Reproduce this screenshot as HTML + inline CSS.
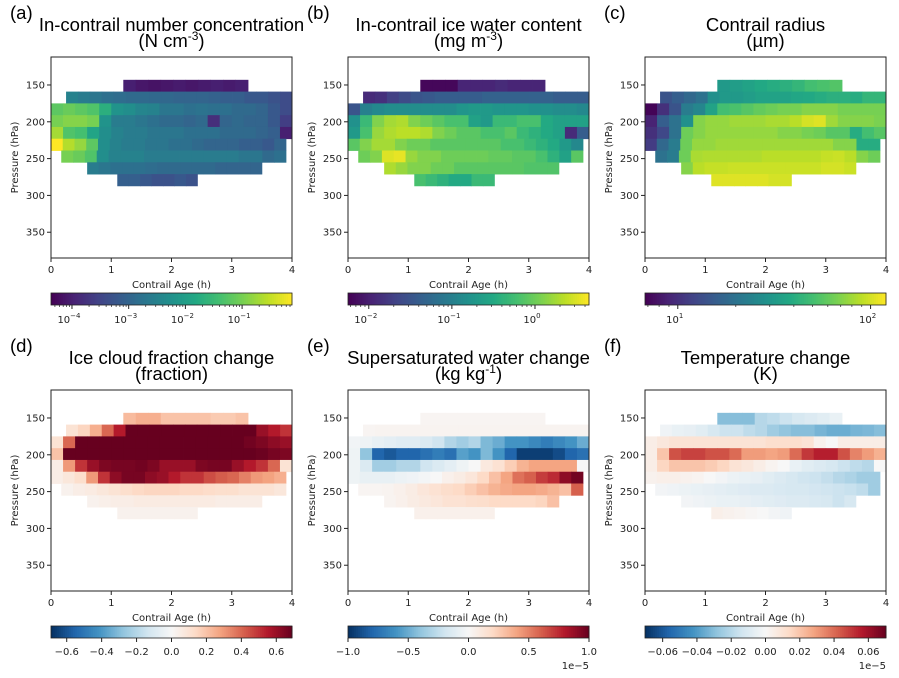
<!DOCTYPE html>
<html><head><meta charset="utf-8"><style>
html,body{margin:0;padding:0;background:#fff;}
svg{display:block;}
.ttl{font-family:"Liberation Sans",sans-serif;font-size:18.5px;fill:#000;}
.tk{font-family:"DejaVu Sans","Liberation Sans",sans-serif;font-size:10px;fill:#222;}
</style></head><body>
<svg id="fig" width="899" height="678" viewBox="0 0 899 678" xmlns="http://www.w3.org/2000/svg"></svg>
<script>
// ---- shared grid data ----
const rowPressures = [151,167,183,199,215,231,247,263,279];
const rowStart = [1.2,0.25,0,0,0,0,0.17,0.6,1.1];
const rowEnd = [3.27,4,4,4,4,3.9,3.9,3.5,2.43];
const xTicks = [0,1,2,3,4];
const yTicks = [150,200,250,300,350];

// panel a: log10 of N cm^-3
const aLog = [
[-4.0,-4.1,-4.15,-4.1,-4.05,-4.1,-4.05,-4.0,-4.05,-4.0],
[-2.5,-2.6,-2.7,-2.8,-2.85,-2.9,-2.9,-2.95,-2.95,-3.0,-3.0,-3.0,-3.05,-3.1,-3.1,-3.2,-3.2,-3.3,-3.4],
[-1.2,-1.1,-1.2,-1.3,-1.7,-2.2,-2.3,-2.45,-2.5,-2.7,-2.7,-2.8,-2.75,-2.8,-2.8,-2.9,-2.9,-3.0,-3.2,-3.4],
[-1.0,-0.9,-0.9,-1.0,-2.2,-2.6,-2.6,-2.7,-2.8,-2.9,-2.9,-3.0,-2.9,-3.8,-3.0,-2.9,-3.0,-3.0,-3.2,-3.6],
[-0.7,-1.3,-1.4,-1.9,-2.3,-2.5,-2.6,-2.6,-2.7,-2.7,-2.7,-2.8,-2.8,-2.8,-2.9,-2.9,-2.9,-3.0,-3.1,-4.0],
[-0.1,-0.6,-0.8,-1.2,-2.3,-2.5,-2.6,-2.6,-2.7,-2.7,-2.8,-2.8,-2.9,-3.0,-3.0,-3.0,-3.1,-3.1,-3.2,-3.0],
[-1.0,-1.1,-1.3,-2.3,-2.5,-2.5,-2.5,-2.6,-2.6,-2.6,-2.6,-2.6,-2.6,-2.6,-2.6,-2.7,-2.7,-2.9,-2.8],
[-2.6,-2.7,-2.8,-2.8,-2.8,-2.85,-2.9,-2.9,-2.9,-2.9,-2.9,-3.0,-3.0,-3.0,-3.0],
[-3.1,-3.1,-3.2,-3.3,-3.3,-3.2,-3.3]];
// panel b: log10 of mg m^-3
const bLog = [
[-2.2,-2.2,-2.2,-1.95,-1.95,-1.95,-1.9,-1.95,-1.95,-1.95],
[-1.9,-1.85,-1.7,-1.6,-1.5,-1.45,-1.4,-1.4,-1.4,-1.4,-1.35,-1.35,-1.35,-1.35,-1.35,-1.35,-1.4,-1.4,-1.4],
[-1.5,-1.0,-0.9,-0.85,-0.85,-0.85,-0.85,-0.85,-0.85,-0.75,-0.7,-0.7,-0.75,-0.75,-0.75,-0.8,-0.8,-0.85,-0.85,-0.9],
[-0.8,-0.3,0.1,0.25,0.3,0.1,0.0,-0.1,-0.2,-0.2,-0.6,-0.7,-0.3,-0.3,-0.2,-0.2,-0.5,-0.6,-0.6,-0.6],
[-0.7,-0.2,0.2,0.3,0.35,0.35,0.3,0.1,0.0,-0.1,-0.1,-0.2,-0.2,-0.1,-0.3,-0.4,-0.5,-0.6,-1.9,-1.4],
[-0.1,0.1,0.25,0.25,0.1,0.0,0.0,-0.1,-0.1,-0.1,-0.1,-0.1,-0.1,-0.2,-0.2,-0.3,-0.4,-0.5,-0.7,-0.9],
[0.0,0.1,0.5,0.55,0.2,0.1,0.1,0.0,0.0,0.0,0.0,-0.05,-0.05,-0.1,-0.1,-0.2,-0.4,-0.6,-0.1],
[0.3,0.2,0.1,0.1,0.0,0.0,-0.1,-0.1,-0.1,-0.1,-0.1,-0.1,-0.15,-0.15,-0.15],
[-0.2,-0.3,-0.4,-0.5,-0.5,-0.3,-0.3]];
// panel c: log10 of radius um
const cLog = [
[1.5,1.52,1.55,1.58,1.6,1.62,1.65,1.7,1.72,1.74],
[1.15,1.2,1.25,1.3,1.45,1.5,1.5,1.52,1.55,1.55,1.55,1.57,1.58,1.6,1.62,1.62,1.6,1.65,1.65],
[0.84,1.0,1.15,1.35,1.4,1.55,1.7,1.72,1.75,1.78,1.8,1.82,1.82,1.85,1.85,1.85,1.82,1.82,1.82,1.82],
[0.95,1.2,1.3,1.45,1.85,1.88,1.88,1.9,1.9,1.9,1.92,1.92,1.95,2.0,2.02,1.9,1.85,1.85,1.85,1.83],
[1.0,1.1,1.3,1.8,1.85,1.88,1.88,1.88,1.88,1.88,1.88,1.85,1.85,1.82,1.8,1.75,1.75,1.6,1.7,1.75],
[1.05,1.25,1.35,1.8,1.88,1.88,1.9,1.9,1.9,1.9,1.9,1.9,1.9,1.9,1.9,1.9,1.85,1.85,1.6,1.6],
[1.3,1.35,1.8,1.92,1.93,1.93,1.93,1.93,1.93,1.95,1.95,1.95,1.95,1.95,1.97,1.98,1.95,1.85,1.8],
[1.85,1.95,1.97,1.97,1.98,1.98,1.98,1.98,1.98,1.98,1.98,1.98,2.0,2.0,1.98],
[2.02,2.02,2.02,2.02,2.02,2.0,2.0]];
// panel d: ice cloud fraction change
const dVal = [
[0.22,0.25,0.25,0.2,0.2,0.2,0.2,0.18,0.18,0.2],
[0.1,0.15,0.25,0.4,0.55,0.69,0.69,0.69,0.69,0.69,0.69,0.69,0.69,0.69,0.69,0.69,0.6,0.55,0.5],
[0.1,0.4,0.69,0.69,0.69,0.69,0.69,0.69,0.69,0.69,0.69,0.69,0.69,0.69,0.69,0.69,0.67,0.65,0.62,0.6],
[0.2,0.69,0.69,0.69,0.69,0.69,0.69,0.69,0.69,0.69,0.69,0.69,0.69,0.69,0.69,0.69,0.69,0.68,0.66,0.65],
[0.05,0.3,0.5,0.6,0.65,0.66,0.66,0.67,0.65,0.6,0.6,0.6,0.65,0.66,0.66,0.6,0.55,0.5,0.4,0.1],
[0.05,0.08,0.12,0.3,0.5,0.62,0.66,0.66,0.62,0.6,0.55,0.5,0.5,0.45,0.42,0.4,0.35,0.3,0.28,0.25],
[0.03,0.05,0.06,0.08,0.1,0.12,0.14,0.15,0.15,0.15,0.14,0.14,0.13,0.12,0.12,0.1,0.1,0.1,0.08],
[0.03,0.04,0.05,0.05,0.06,0.06,0.06,0.06,0.06,0.06,0.06,0.05,0.05,0.05,0.05],
[0.03,0.03,0.03,0.03,0.03,0.03,0.03]];
// panel e: supersaturated water change (x1e-5 kg/kg)
const eVal = [
[0.02,0.02,0.02,0.02,0.02,0.02,0.02,0.02,0.02,0.02],
[0.02,0.03,0.03,0.03,0.03,0.03,0.03,0.03,0.03,0.03,0.03,0.03,0.03,0.03,0.03,0.03,0.03,0.03,0.03],
[-0.03,-0.05,-0.08,-0.1,-0.12,-0.12,-0.15,-0.2,-0.3,-0.35,-0.3,-0.45,-0.5,-0.6,-0.6,-0.65,-0.7,-0.65,-0.6,-0.5],
[-0.05,-0.4,-0.8,-0.85,-0.8,-0.8,-0.75,-0.7,-0.75,-0.55,-0.6,-0.45,-0.6,-0.8,-0.95,-0.95,-0.95,-0.9,-0.8,-0.75],
[-0.05,-0.15,-0.35,-0.35,-0.3,-0.3,-0.2,-0.15,-0.1,-0.05,0.0,0.1,0.15,0.25,0.35,0.4,0.4,0.4,0.4,0.0],
[-0.05,-0.08,-0.08,-0.08,-0.06,-0.04,-0.02,0.0,0.05,0.08,0.12,0.2,0.3,0.4,0.55,0.6,0.7,0.75,0.9,0.97],
[0.02,0.02,0.03,0.05,0.08,0.12,0.15,0.18,0.2,0.25,0.3,0.35,0.38,0.4,0.4,0.38,0.35,0.3,0.6],
[0.03,0.05,0.08,0.1,0.12,0.15,0.15,0.17,0.18,0.2,0.2,0.2,0.2,0.22,0.3],
[0.05,0.05,0.05,0.05,0.05,0.05,0.05]];
// panel f: temperature change (x1e-5 K)
const fVal = [
[-0.03,-0.03,-0.03,-0.02,-0.018,-0.015,-0.012,-0.01,-0.008,-0.005],
[-0.003,-0.005,-0.006,-0.008,-0.012,-0.015,-0.015,-0.018,-0.02,-0.025,-0.028,-0.03,-0.03,-0.033,-0.035,-0.035,-0.033,-0.032,-0.03],
[0.005,0.008,0.01,0.01,0.01,0.01,0.01,0.01,0.01,0.01,0.012,0.012,0.012,0.01,0.003,0.0,0.005,0.005,0.005,0.005],
[0.005,0.02,0.045,0.048,0.048,0.045,0.045,0.04,0.03,0.03,0.028,0.03,0.04,0.05,0.055,0.055,0.045,0.035,0.03,0.025],
[0.005,0.015,0.02,0.02,0.02,0.018,0.015,0.01,0.008,0.005,0.002,0.0,-0.005,-0.008,-0.01,-0.012,-0.015,-0.018,-0.02,0.0],
[0.003,0.004,0.004,0.003,0.002,0.0,-0.002,-0.004,-0.005,-0.006,-0.008,-0.01,-0.012,-0.014,-0.015,-0.017,-0.02,-0.022,-0.025,-0.025],
[-0.002,-0.003,-0.004,-0.005,-0.006,-0.007,-0.008,-0.009,-0.01,-0.01,-0.011,-0.012,-0.012,-0.013,-0.014,-0.015,-0.016,-0.018,-0.025],
[-0.002,-0.003,-0.004,-0.005,-0.005,-0.006,-0.007,-0.008,-0.009,-0.01,-0.01,-0.011,-0.012,-0.015,-0.012],
[0.004,0.003,0.002,0.001,0.0,-0.002,-0.003]];

const cbTicksA = [-4,-3,-2,-1];
const cbTicksB = [-2,-1,0];
const cbTicksC = [1,2];
const cbTicksD = [-0.6,-0.4,-0.2,0.0,0.2,0.4,0.6];
const cbTicksE = [-1.0,-0.5,0.0,0.5,1.0];
const cbTicksF = [-0.06,-0.04,-0.02,0.00,0.02,0.04,0.06];

const VIR = ["#440154","#482475","#414487","#355f8d","#2a788e","#21918c","#22a884","#44bf70","#7ad151","#bddf26","#fde725"];
const RDBU = ["#053061","#2166ac","#4393c3","#92c5de","#d1e5f0","#f7f7f7","#fddbc7","#f4a582","#d6604d","#b2182b","#67001f"];
function hx(c){return [parseInt(c.substr(1,2),16),parseInt(c.substr(3,2),16),parseInt(c.substr(5,2),16)];}
function cmap(stops,t){t=Math.max(0,Math.min(1,t));const n=stops.length-1;const i=Math.min(n-1,Math.floor(t*n));const f=t*n-i;const a=hx(stops[i]),b=hx(stops[i+1]);return "rgb("+a.map((v,k)=>Math.round(v+(b[k]-v)*f)).join(",")+")";}

const NS="http://www.w3.org/2000/svg";
const svg=document.getElementById('fig');
function mk(tag,attrs,parent){const e=document.createElementNS(NS,tag);for(const k in attrs)e.setAttribute(k,attrs[k]);(parent||svg).appendChild(e);return e;}

const panels=[
 {key:"a",lab:"(a)",t1:"In-contrail number concentration",t2:["(N cm","-3",")"],data:aLog,cm:VIR,lo:-4.37,hi:-0.12,log:true,ticks:cbTicksA,col:0,row:0},
 {key:"b",lab:"(b)",t1:"In-contrail ice water content",t2:["(mg m","-3",")"],data:bLog,cm:VIR,lo:-2.25,hi:0.65,log:true,ticks:cbTicksB,col:1,row:0},
 {key:"c",lab:"(c)",t1:"Contrail radius",t2:["(\u00b5m",null,")"],data:cLog,cm:VIR,lo:0.83,hi:2.08,log:true,ticks:cbTicksC,col:2,row:0},
 {key:"d",lab:"(d)",t1:"Ice cloud fraction change",t2:["(fraction",null,")"],data:dVal,cm:RDBU,lo:-0.69,hi:0.69,log:false,ticks:cbTicksD,col:0,row:1,fmt:v=>v.toFixed(1)},
 {key:"e",lab:"(e)",t1:"Supersaturated water change",t2:["(kg kg",null,")"],sup2:"-1",data:eVal,cm:RDBU,lo:-1.0,hi:1.0,log:false,ticks:cbTicksE,col:1,row:1,fmt:v=>v.toFixed(1),exp:"1e\u22125"},
 {key:"f",lab:"(f)",t1:"Temperature change",t2:["(K",null,")"],data:fVal,cm:RDBU,lo:-0.0703,hi:0.0703,log:false,ticks:cbTicksF,col:2,row:1,fmt:v=>v.toFixed(2),exp:"1e\u22125"}
];

panels.forEach(P=>{
  const ox=51+297*P.col, oy=57+333*P.row, W=241, H=201;
  const g=mk('g',{});
  
  
  const xs=h=>ox+h/4*W;
  const ys=p=>oy+(p-112)/(385-112)*H;
  const lab=mk('text',{x:ox-41,y:oy-38,class:'ttl'},g);lab.textContent=P.lab;
  
  
  const t1=mk('text',{x:ox+W/2,y:oy-26,class:'ttl','text-anchor':'middle'},g);t1.textContent=P.t1;
  
  
  const t2=mk('text',{x:ox+W/2,y:oy-10,class:'ttl','text-anchor':'middle'},g);
  
  
  const s1=mk('tspan',{},t2);s1.textContent=P.t2[0];
  const supTxt=P.t2[1]||P.sup2;
  if(supTxt){const s=mk('tspan',{'font-size':'12','dy':'-7'},t2);s.textContent=supTxt;const s3=mk('tspan',{'dy':'7'},t2);s3.textContent=P.t2[2];}
  else{const s3=mk('tspan',{},t2);s3.textContent=P.t2[2];}
  P.data.forEach((vals,r)=>{
    const p=rowPressures[r],x0=rowStart[r],x1=rowEnd[r],n=vals.length,w=(x1-x0)/n;
    vals.forEach((v,i)=>{
      const c=mk('rect',{x:xs(x0+i*w),y:ys(p-8),width:xs(x0+(i+1)*w)-xs(x0+i*w)+0.4,height:ys(p+8)-ys(p-8)+0.4,fill:cmap(P.cm,(v-P.lo)/(P.hi-P.lo))},g);
      
      
    });
  });
  const fr=mk('rect',{x:ox,y:oy,width:W,height:H,fill:'none',stroke:'#222','stroke-width':1},g);
  
  
  xTicks.forEach(t=>{
    mk('line',{x1:xs(t),x2:xs(t),y1:oy+H,y2:oy+H+4,stroke:'#222'},g);
    const tx=mk('text',{x:xs(t),y:oy+H+15,class:'tk','text-anchor':'middle'},g);tx.textContent=t;
    
    
  });
  yTicks.forEach(t=>{
    mk('line',{x1:ox-4,x2:ox,y1:ys(t),y2:ys(t),stroke:'#222'},g);
    const tx=mk('text',{x:ox-6,y:ys(t)+3.5,class:'tk','text-anchor':'end'},g);tx.textContent=t;
    
    
  });
  const xl=mk('text',{x:ox+W/2,y:oy+H+30,class:'tk','text-anchor':'middle'},g);xl.textContent='Contrail Age (h)';
  
  
  const yl=mk('text',{x:0,y:0,class:'tk','text-anchor':'middle',transform:`translate(${ox-33},${oy+H/2}) rotate(-90)`},g);yl.textContent='Pressure (hPa)';
  
  
  const cy=oy+236, ch=12;
  const cb=mk('g',{},g);
  
  
  const N=120;
  for(let i=0;i<N;i++){mk('rect',{x:ox+i*W/N,y:cy,width:W/N+0.5,height:ch,fill:cmap(P.cm,(i+0.5)/N)},cb);}
  mk('rect',{x:ox,y:cy,width:W,height:ch,fill:'none',stroke:'#222','stroke-width':0.8},cb);
  const cx=v=>ox+(v-P.lo)/(P.hi-P.lo)*W;
  if(P.log){
    for(let d=Math.floor(P.lo);d<=Math.ceil(P.hi);d++){for(let m=2;m<=9;m++){const v=d+Math.log10(m);if(v>P.lo&&v<P.hi)mk('line',{x1:cx(v),x2:cx(v),y1:cy+ch,y2:cy+ch+2,stroke:'#222','stroke-width':0.7},cb);}}
    P.ticks.forEach(t=>{
      mk('line',{x1:cx(t),x2:cx(t),y1:cy+ch,y2:cy+ch+4,stroke:'#222'},cb);
      const tx=mk('text',{x:cx(t)-3,y:cy+ch+18,class:'tk','text-anchor':'middle'},cb);
      
      
      const a=mk('tspan',{},tx);a.textContent='10';
      const b=mk('tspan',{dy:-5,'font-size':'7'},tx);b.textContent=(t<0?'\u2212':'')+Math.abs(t);
    });
  } else {
    P.ticks.forEach(t=>{
      mk('line',{x1:cx(t),x2:cx(t),y1:cy+ch,y2:cy+ch+4,stroke:'#222'},cb);
      const tx=mk('text',{x:cx(t),y:cy+ch+17,class:'tk','text-anchor':'middle'},cb);
      tx.textContent=P.fmt(t).replace('-','\u2212');
      
      
    });
    if(P.exp){const ex=mk('text',{x:ox+W,y:cy+ch+31,class:'tk','text-anchor':'end'},cb);ex.textContent=P.exp;
      
      }
  }
});
</script>
</body></html>
